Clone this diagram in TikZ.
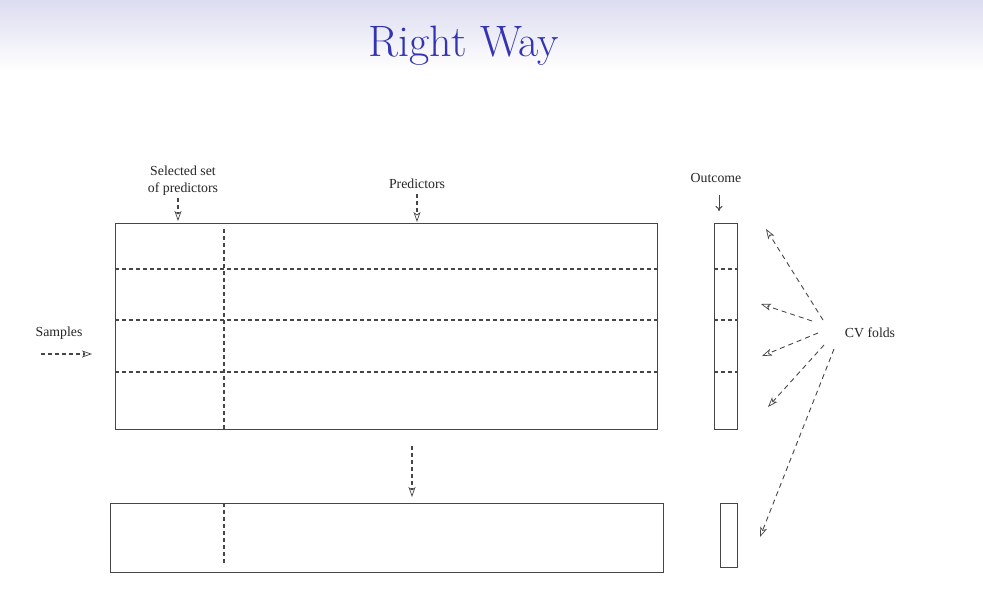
\documentclass[tikz,border=0pt]{standalone}
\usepackage{fontspec}
\newfontfamily\lblfont{Liberation Serif}
\usetikzlibrary{arrows.meta}
\definecolor{titleblue}{RGB}{51,51,179}
\definecolor{bandtop}{RGB}{220,220,240}
\definecolor{ln}{RGB}{70,70,70}
\begin{document}
\begin{tikzpicture}[x=1pt,y=-1pt,
  box/.style={draw=ln, line width=1pt, inner sep=0pt, outer sep=0pt, anchor=north west},
  lbl/.style={font=\lblfont\fontsize{13.8}{17}\selectfont, text=black!85, align=center, inner sep=1pt},
  dsh/.style={draw=ln, line width=1.2pt, dash pattern=on 4pt off 3pt},
  openarr/.style={-{Stealth[open,length=10pt,width=7pt,inset=2.5pt,line width=0.7pt]}},
]
\useasboundingbox (0,0) rectangle (983,614);
\fill[white] (0,0) rectangle (983,614);
\shade[top color=bandtop, bottom color=white] (0,0) rectangle (983,70);
\node[text=titleblue, font=\fontsize{44}{52}\selectfont, anchor=base, inner sep=0pt] (title) at (464,56) {Right Way};

% main data matrix
\node[box, minimum width=542pt, minimum height=206pt] (main) at (115,223) {};
\foreach \yy in {269,320,372} {
  \draw[dsh] (115,\yy) -- (657,\yy);
}
\draw[dsh] (224,229) -- (224,429);

% outcome column
\node[box, minimum width=23pt, minimum height=206pt] (outc) at (714,223) {};
\foreach \yy in {269,320,372} {
  \draw[dsh] (714,\yy) -- (737,\yy);
}

% bottom matrix
\node[box, minimum width=553pt, minimum height=69pt] (bot) at (110,503) {};
\draw[dsh] (224,503) -- (224,563);
\node[box, minimum width=17pt, minimum height=64pt] (botout) at (720,503) {};

% labels
\node[lbl] (sel) at (183,181) {Selected set\\of predictors};
\node[lbl] (pred) at (417,184) {Predictors};
\node[lbl] (outlbl) at (716,178) {Outcome};
\node[lbl] (samp) at (59,333) {Samples};
\node[lbl] (cv) at (870,333) {CV folds};

\coordinate (selstart) at (178,198);
\coordinate (selend) at (178,221);
\coordinate (predstart) at (417,194);
\coordinate (predend) at (417,222);
\draw[dsh, openarr] (selstart) -- (selend);
\draw[dsh, openarr] (predstart) -- (predend);
\coordinate (outstart) at (719,195);
\coordinate (outend) at (719,211);
\draw[ln, line width=1pt, -{To[length=5pt,width=7pt]}] (outstart) -- (outend);

\coordinate (sampstart) at (41,354);
\coordinate (sampend) at (92,354);
\draw[dsh, openarr] (sampstart) -- (sampend);

\coordinate (downstart) at (412,446);
\coordinate (downend) at (412,497);
\draw[dsh, openarr] (downstart) -- (downend);

% CV fold arrows
\coordinate (s1) at (823,320); \coordinate (e1) at (766,229);
\coordinate (s2) at (812,321); \coordinate (e2) at (761,304);
\coordinate (s3) at (818,333); \coordinate (e3) at (762,356);
\coordinate (s4) at (824,345); \coordinate (e4) at (768,407);
\coordinate (s5) at (834,349); \coordinate (e5) at (760,537);
\foreach \k in {1,...,5} {
  \draw[ln, line width=0.9pt, dash pattern=on 5pt off 4pt, openarr] (s\k) -- (e\k);
}
\end{tikzpicture}
\end{document}
